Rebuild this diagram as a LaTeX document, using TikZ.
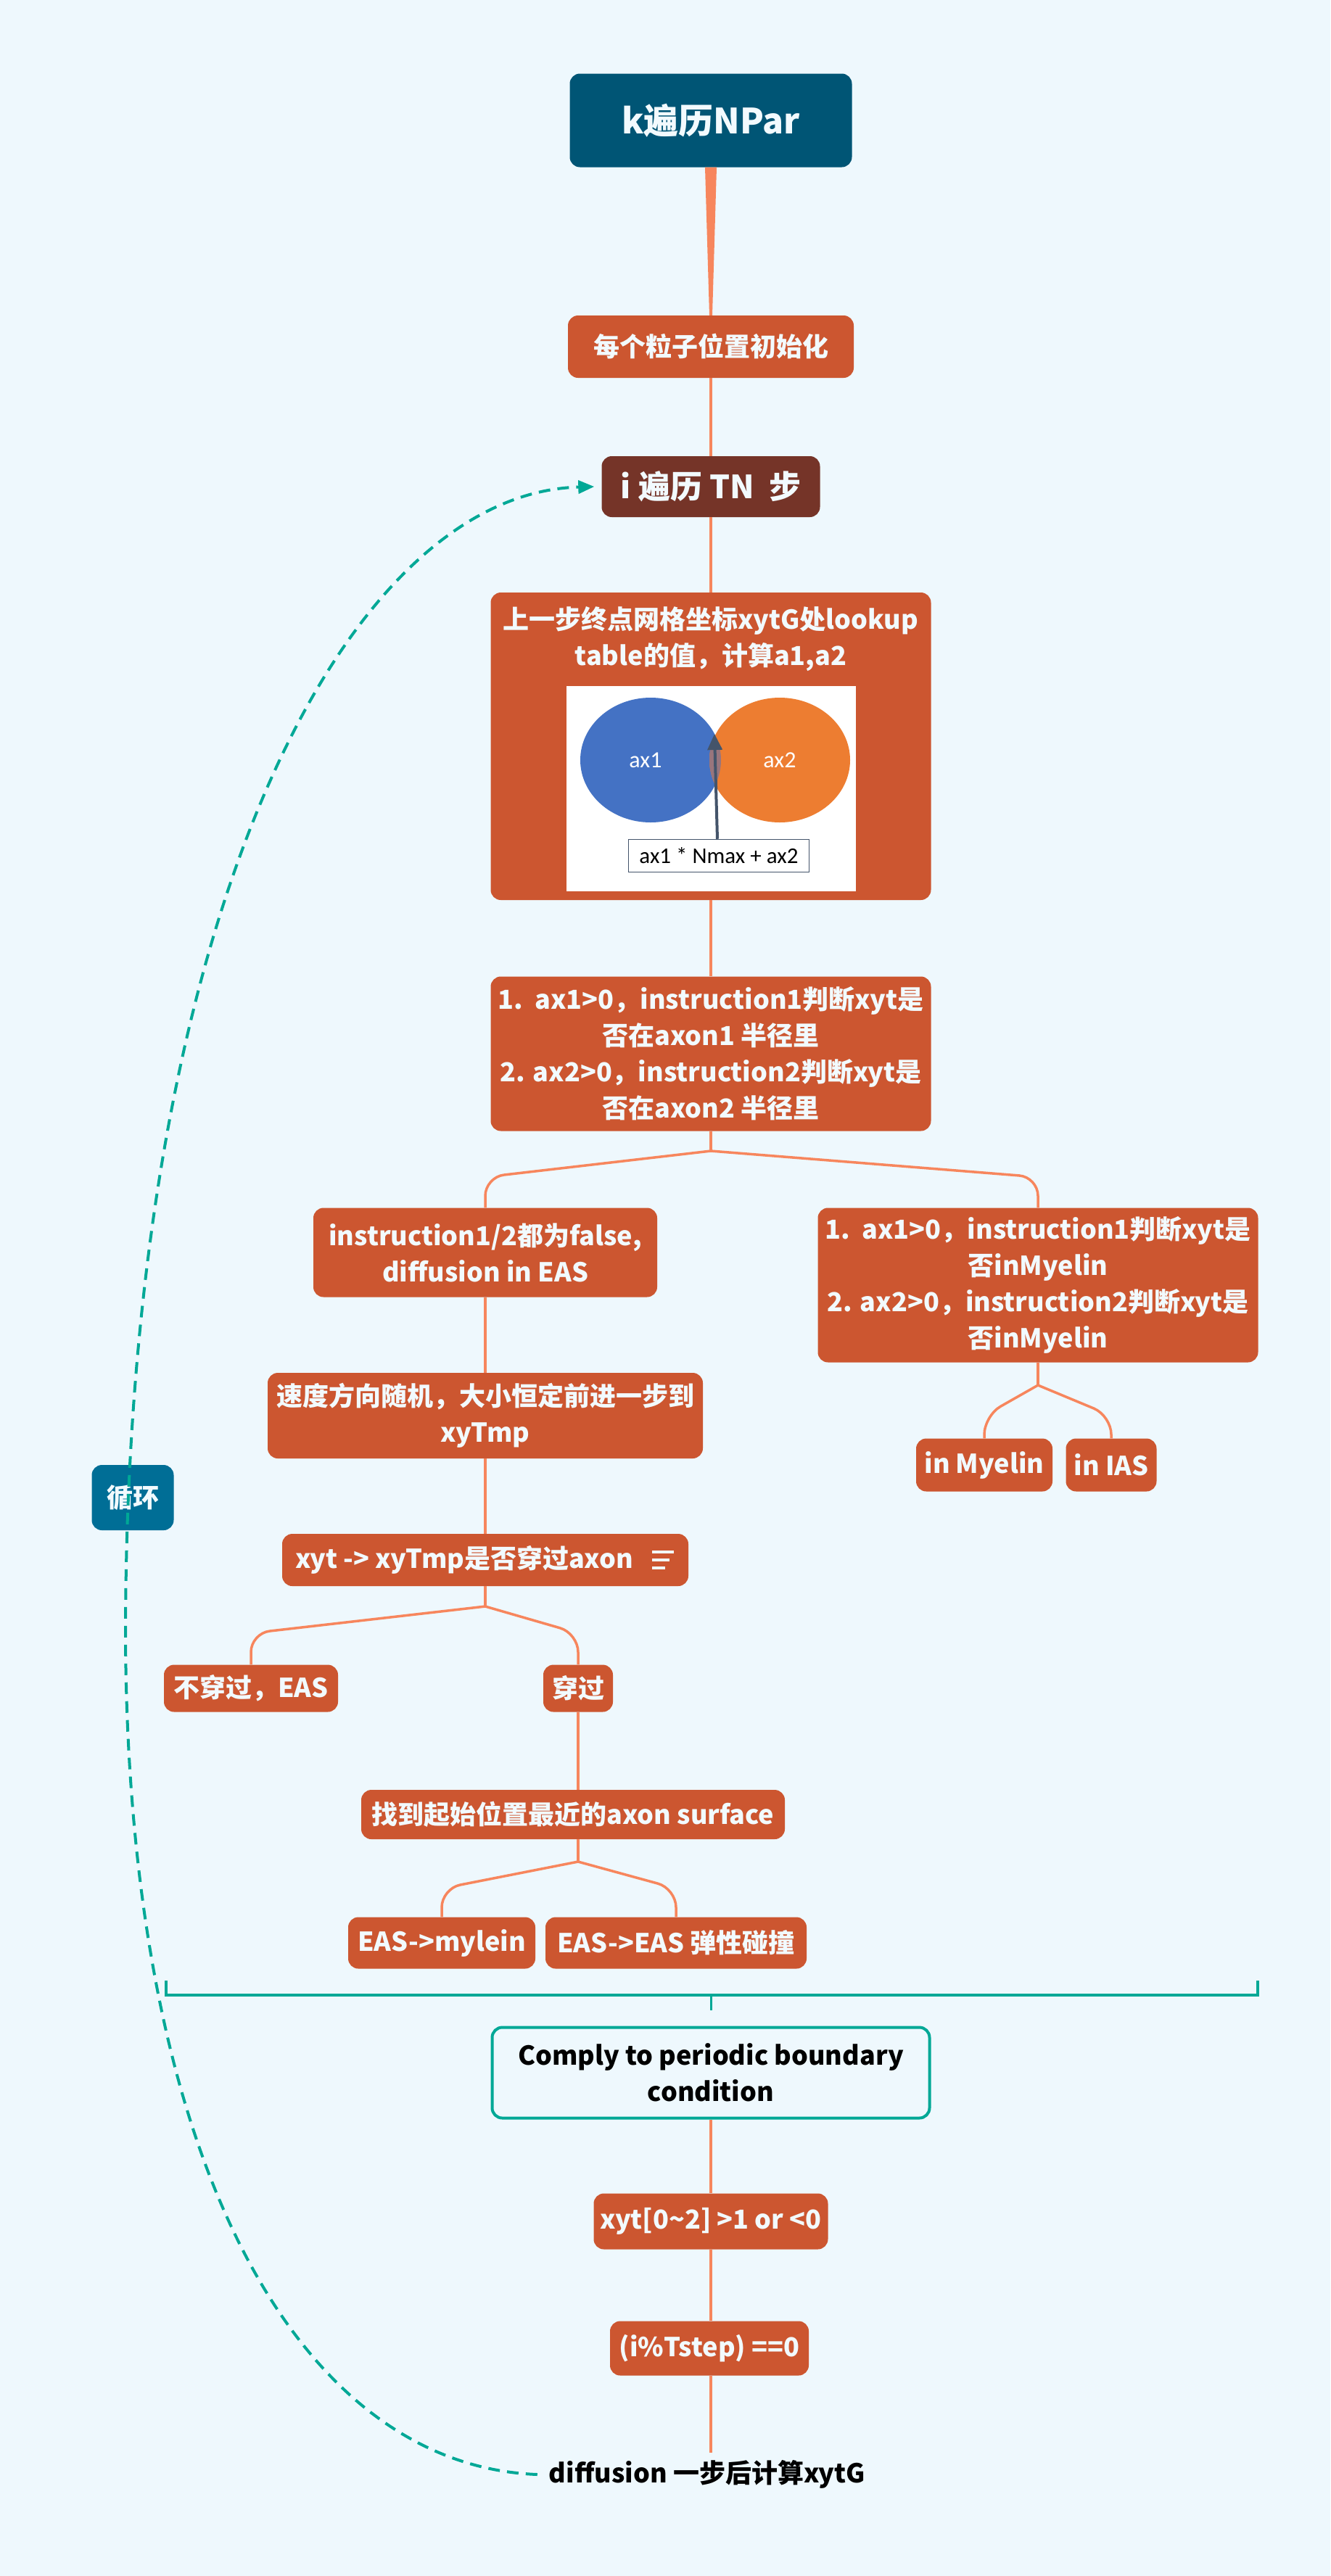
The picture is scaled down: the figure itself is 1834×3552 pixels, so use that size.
\documentclass[tikz,border=0pt]{standalone}
\usepackage{fontspec}
\setmainfont{Noto Sans CJK SC}
\newfontfamily\carlito{Carlito}
\usetikzlibrary{arrows.meta, positioning}
\definecolor{fond}{RGB}{238,248,253}
\definecolor{titre}{RGB}{0,85,117}
\definecolor{brique}{RGB}{204,86,48}
\definecolor{brun}{RGB}{117,52,40}
\definecolor{saumon}{RGB}{247,134,93}
\definecolor{sarcelle}{RGB}{0,168,150}
\definecolor{bleuboucle}{RGB}{0,110,150}
\definecolor{bleuax}{RGB}{68,114,196}
\definecolor{orangeax}{RGB}{237,125,49}
\definecolor{mauve}{RGB}{152,117,125}
\definecolor{ardoise}{RGB}{68,84,106}
\definecolor{blanc}{RGB}{242,250,254}

\begin{document}
\begin{tikzpicture}[x=1pt, y=-1pt, >=Triangle,
    etape/.style={fill=brique, text=blanc, rounded corners=14pt, inner sep=0pt,
        align=center, font=\fontsize{36}{50}\selectfont\bfseries},
    lien/.style={draw=saumon, line width=3.5pt},
    boucle/.style={draw=sarcelle, line width=4pt, dash pattern=on 16pt off 10pt}]

% Fond
\useasboundingbox (0,0) rectangle (1834,3552);
\fill[fond] (0,0) rectangle (1834,3552);

% Titre
\node[etape, fill=titre, minimum width=389pt, minimum height=129pt,
    font=\fontsize{48}{56}\selectfont\bfseries] (titre) at (980,166) {k遍历NPar};

% Initialisation et boucle sur i
\node[etape, minimum width=394pt, minimum height=86pt] (init) at (980,478) {每个粒子位置初始化};
\node[etape, fill=brun, minimum width=301pt, minimum height=84pt,
    font=\fontsize{44}{52}\selectfont\bfseries] (iloop) at (980,671) {i 遍历 TN \ 步};

% Lookup table
\node[etape, minimum width=607pt, minimum height=424pt] (lookup) at (980,1029) {};
\node[text=blanc, align=center, inner sep=0pt, font=\fontsize{36}{50}\selectfont\bfseries]
    (lookuptxt) at (980,881) {上一步终点网格坐标xytG处lookup\\table的值，计算a1,a2};
\fill[white] (781,946) rectangle (1180,1229);
\fill[bleuax] (897,1048) ellipse (97 and 86);
\fill[orangeax] (1075,1048) ellipse (97 and 86);
\begin{scope}
    \clip (897,1048) ellipse (97 and 86);
    \fill[mauve] (1075,1048) ellipse (97 and 86);
\end{scope}
\node[text=white, font=\carlito\fontsize{32}{36}\selectfont] (ax1) at (890,1048) {ax1};
\node[text=white, font=\carlito\fontsize{32}{36}\selectfont] (ax2) at (1075,1048) {ax2};
\node[draw=ardoise, line width=1.5pt, fill=white, minimum width=249pt, minimum height=45pt,
    inner sep=0pt, font=\carlito\fontsize{31}{36}\selectfont] (formule) at (991,1180) {ax1 * Nmax + ax2};
\draw[->, ardoise, line width=4pt, -{Triangle[length=22pt, width=20pt]}]
    ([xshift=-2pt]formule.north) -- (985,1012);

% Test des deux axones
\node[etape, minimum width=607pt, minimum height=213pt] (check) at (980,1453)
    {1.\ \ ax1>0，instruction1判断xyt是\\否在axon1 半径里\\2. ax2>0，instruction2判断xyt是\\否在axon2 半径里};

% Branches
\node[etape, minimum width=474pt, minimum height=123pt] (eas) at (669,1727)
    {instruction1/2都为false,\\diffusion in EAS};
\node[etape, minimum width=607pt, minimum height=213pt] (myel) at (1431,1772)
    {1.\ \ ax1>0，instruction1判断xyt是\\否inMyelin\\2. ax2>0，instruction2判断xyt是\\否inMyelin};
\node[etape, minimum width=188pt, minimum height=73pt] (inmy) at (1357,2020) {in Myelin};
\node[etape, minimum width=125pt, minimum height=73pt] (inias) at (1532,2020) {in IAS};

\node[etape, minimum width=600pt, minimum height=118pt] (rand) at (669,1952)
    {速度方向随机，大小恒定前进一步到\\xyTmp};
\node[etape, minimum width=560pt, minimum height=72pt] (cross) at (669,2151)
    {xyt -> xyTmp是否穿过axon\hspace{58pt}};
\draw[blanc, line width=3.5pt] ([xshift=-50pt, yshift=11pt]cross.east) -- ++(30,0);
\draw[blanc, line width=3.5pt] ([xshift=-50pt]cross.east) -- ++(24,0);
\draw[blanc, line width=3.5pt] ([xshift=-50pt, yshift=-11pt]cross.east) -- ++(18,0);

\node[etape, minimum width=240pt, minimum height=65pt] (nocross) at (346,2328) {不穿过，EAS};
\node[etape, minimum width=96pt, minimum height=65pt] (yescross) at (797,2328) {穿过};
\node[etape, minimum width=584pt, minimum height=68pt] (surf) at (790,2502) {找到起始位置最近的axon surface};
\node[etape, minimum width=258pt, minimum height=71pt] (mylein) at (609,2679) {EAS->mylein};
\node[etape, minimum width=360pt, minimum height=71pt] (elastic) at (932,2679) {EAS->EAS 弹性碰撞};

% Conditions aux limites
\node[etape, fill=fond, draw=sarcelle, line width=4pt, text=black, minimum width=603pt,
    minimum height=125pt] (comply) at (980,2858) {Comply to periodic boundary\\condition};
\node[etape, minimum width=323pt, minimum height=77pt] (bound) at (980,3063) {xyt[0\textasciitilde 2] >1 or <0};
\node[etape, minimum width=274pt, minimum height=75pt] (tstep) at (978,3238) {(i\%Tstep) ==0};
\node[text=black, inner sep=4pt, font=\fontsize{36}{44}\selectfont\bfseries] (diff) at (975,3412)
    {diffusion 一步后计算xytG};

% Liens
\fill[saumon] ([xshift=-8pt]titre.south) -- ([xshift=8pt]titre.south)
    -- ([xshift=2pt]init.north) -- ([xshift=-2pt]init.north) -- cycle;
\draw[lien] (init) -- (iloop);
\draw[lien] (iloop) -- (lookup);
\draw[lien] (lookup) -- (check);

\coordinate (j1) at (980,1587);
\draw[lien] (check) -- (j1);
\foreach \enf in {eas, myel}
    \draw[lien, rounded corners=26pt] (j1) -- (\enf.north |- 0,1623) -- (\enf.north);

\coordinate (j2) at (1431,1910);
\draw[lien] (myel) -- (j2);
\foreach \enf in {inmy, inias}
    \draw[lien, rounded corners=26pt] (j2) -- (\enf.north |- 0,1952) -- (\enf.north);

\draw[lien] (eas) -- (rand);
\draw[lien] (rand) -- (cross.north -| rand.south);

\coordinate (j3) at (669,2215);
\draw[lien] (cross.south -| rand.south) -- (j3);
\foreach \enf in {nocross, yescross}
    \draw[lien, rounded corners=26pt] (j3) -- (\enf.north |- 0,2252) -- (\enf.north);

\draw[lien] (yescross) -- (yescross.south |- surf.north);

\coordinate (j4) at (797,2567);
\draw[lien] (yescross.south |- surf.south) -- (j4);
\foreach \enf in {mylein, elastic}
    \draw[lien, rounded corners=26pt] (j4) -- (\enf.north |- 0,2604) -- (\enf.north);

% Accolade
\coordinate (acc) at (980,2751);
\draw[sarcelle, line width=4pt] (229,2731) -- (229,2751) -- (1734,2751) -- (1734,2731);
\draw[sarcelle, line width=3pt] (acc) -- ([yshift=22pt]comply.north);

\draw[lien] (comply) -- (bound);
\draw[lien] (bound.south) -- (bound.south |- tstep.north);
\draw[lien] (bound.south |- tstep.south) -- (bound.south |- 0,3382);

% Boucle
\node[etape, fill=bleuboucle, minimum width=113pt, minimum height=90pt] (loop) at (183,2065) {循环};
\draw[boucle, -{Triangle[length=22pt, width=18pt]}] ([xshift=-12pt]diff.west)
    .. controls (420,3400) and (175,3000) .. (173,2250)
    .. controls (175,1250) and (480,680) .. ([xshift=-10pt]iloop.west);

\end{tikzpicture}
\end{document}
